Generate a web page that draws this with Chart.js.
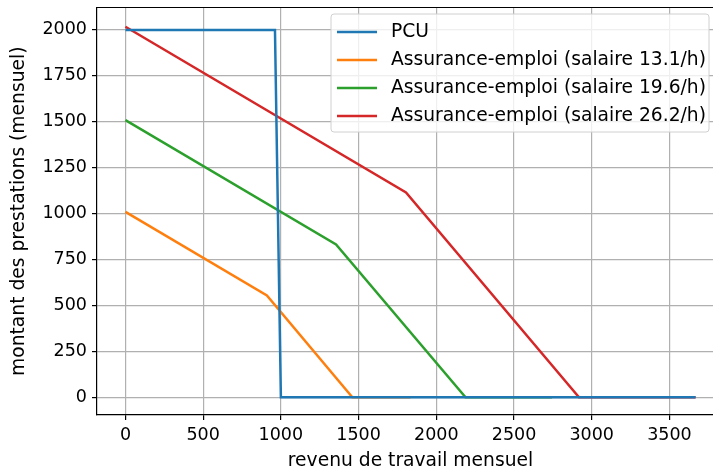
<!DOCTYPE html>
<html>
<head>
<meta charset="utf-8">
<script src="https://cdn.jsdelivr.net/npm/chart.js@4.4.0/dist/chart.umd.min.js"></script>
<style>
  html, body { margin: 0; padding: 0; background: #fff; overflow: hidden; }
  #wrap { width: 730px; height: 472px; }
</style>
</head>
<body>
<div id="wrap"><canvas id="chart"></canvas></div>
<script>
// revenu de travail mensuel (x) et montant des prestations (y)
const pcuX = [0, 962, 1000, 3668];
const pcuY = [2000, 2000, 0, 0];
const ae131X = [0, 910, 1460, 1834];
const ae131Y = [1009, 554, 0, 0];
const ae196X = [0, 1355, 2188, 2744];
const ae196Y = [1509, 832, 0, 0];
const ae262X = [0, 1805, 2918, 3668];
const ae262Y = [2017, 1115, 0, 0];

const labels = ['PCU', 'Assurance-emploi (salaire 13.1/h)', 'Assurance-emploi (salaire 19.6/h)', 'Assurance-emploi (salaire 26.2/h)'];
const colors = ['#1f77b4', '#ff7f0e', '#2ca02c', '#d62728'];
const xTicks = [0, 500, 1000, 1500, 2000, 2500, 3000, 3500];
const yTicks = [0, 250, 500, 750, 1000, 1250, 1500, 1750, 2000];

const FONT = 'DejaVu Sans';
const TICK_FS = 17.5;
const LABEL_FS = 18.7;

function pts(xs, ys) {
    return xs.map((x, i) => ({ x: x, y: ys[i] }));
}

const series = [[pcuX, pcuY], [ae131X, ae131Y], [ae196X, ae196Y], [ae262X, ae262Y]];

const datasets = series.map((s, i) => ({
    label: labels[i],
    data: pts(s[0], s[1]),
    borderColor: colors[i],
    backgroundColor: colors[i],
    borderWidth: 2.5,
    pointRadius: 0,
    tension: 0
}));

// cadre noir (haut + droite) + legende dans la zone du graphique (style matplotlib)
const framePlugin = {
    id: 'frame',
    afterDraw(chart) {
        const ctx = chart.ctx;
        const a = chart.chartArea;
        ctx.save();
        ctx.strokeStyle = '#000';
        ctx.lineWidth = 1.2;
        ctx.beginPath();
        ctx.moveTo(a.left, a.top);
        ctx.lineTo(a.right, a.top);
        ctx.lineTo(a.right, a.bottom);
        ctx.stroke();

        // legende
        const bx = 331, by = 14, bw = 378, bh = 118;
        ctx.fillStyle = 'rgba(255,255,255,0.8)';
        ctx.strokeStyle = '#d0d0d0';
        ctx.lineWidth = 1;
        ctx.beginPath();
        ctx.roundRect(bx, by, bw, bh, 3);
        ctx.fill();
        ctx.stroke();
        ctx.font = LABEL_FS + 'px "' + FONT + '"';
        ctx.textBaseline = 'middle';
        chart.data.datasets.forEach((d, i) => {
            const yy = by + 18 + i * 28;
            ctx.strokeStyle = d.borderColor;
            ctx.lineWidth = 2.5;
            ctx.beginPath();
            ctx.moveTo(bx + 6, yy);
            ctx.lineTo(bx + 46, yy);
            ctx.stroke();
            ctx.fillStyle = '#000';
            ctx.fillText(d.label, bx + 60, yy);
        });
        ctx.restore();
    }
};

const ctx = document.getElementById('chart').getContext('2d');
window.benefitChart = new Chart(ctx, {
    type: 'line',
    data: { datasets: datasets },
    options: {
        responsive: true,
        maintainAspectRatio: false,
        animation: false,
        layout: { padding: { top: 7.5, right: 6, left: 0, bottom: 0 } },
        plugins: {
            legend: { display: false },
            tooltip: { enabled: false }
        },
        scales: {
            x: {
                type: 'linear',
                min: -183,
                max: 3851,
                afterBuildTicks: scale => { scale.ticks = xTicks.map(v => ({ value: v })); },
                afterFit: scale => { scale.height = 57; scale.paddingLeft = 0; scale.paddingRight = 0; },
                ticks: {
                    autoSkip: false,
                    maxRotation: 0,
                    color: '#000',
                    padding: 5,
                    font: { family: FONT, size: TICK_FS },
                    callback: v => String(v)
                },
                grid: { color: '#b0b0b0', lineWidth: 1.2, tickColor: '#000', tickLength: 5 },
                border: { color: '#000', width: 1.2 },
                title: {
                    display: true,
                    text: 'revenu de travail mensuel',
                    color: '#000',
                    padding: { top: 1, bottom: 0 },
                    font: { family: FONT, size: LABEL_FS }
                }
            },
            y: {
                type: 'linear',
                min: -97,
                max: 2122,
                afterBuildTicks: scale => { scale.ticks = yTicks.map(v => ({ value: v })); },
                afterFit: scale => { scale.width = 97; scale.paddingTop = 0; scale.paddingBottom = 0; },
                ticks: {
                    autoSkip: false,
                    color: '#000',
                    padding: 5,
                    font: { family: FONT, size: TICK_FS },
                    callback: v => String(v)
                },
                grid: { color: '#b0b0b0', lineWidth: 1.2, tickColor: '#000', tickLength: 5 },
                border: { color: '#000', width: 1.2 },
                title: {
                    display: true,
                    text: 'montant des prestations (mensuel)',
                    color: '#000',
                    padding: { top: 8, bottom: 0 },
                    font: { family: FONT, size: LABEL_FS }
                }
            }
        }
    },
    plugins: [framePlugin]
});
</script>
</body>
</html>
